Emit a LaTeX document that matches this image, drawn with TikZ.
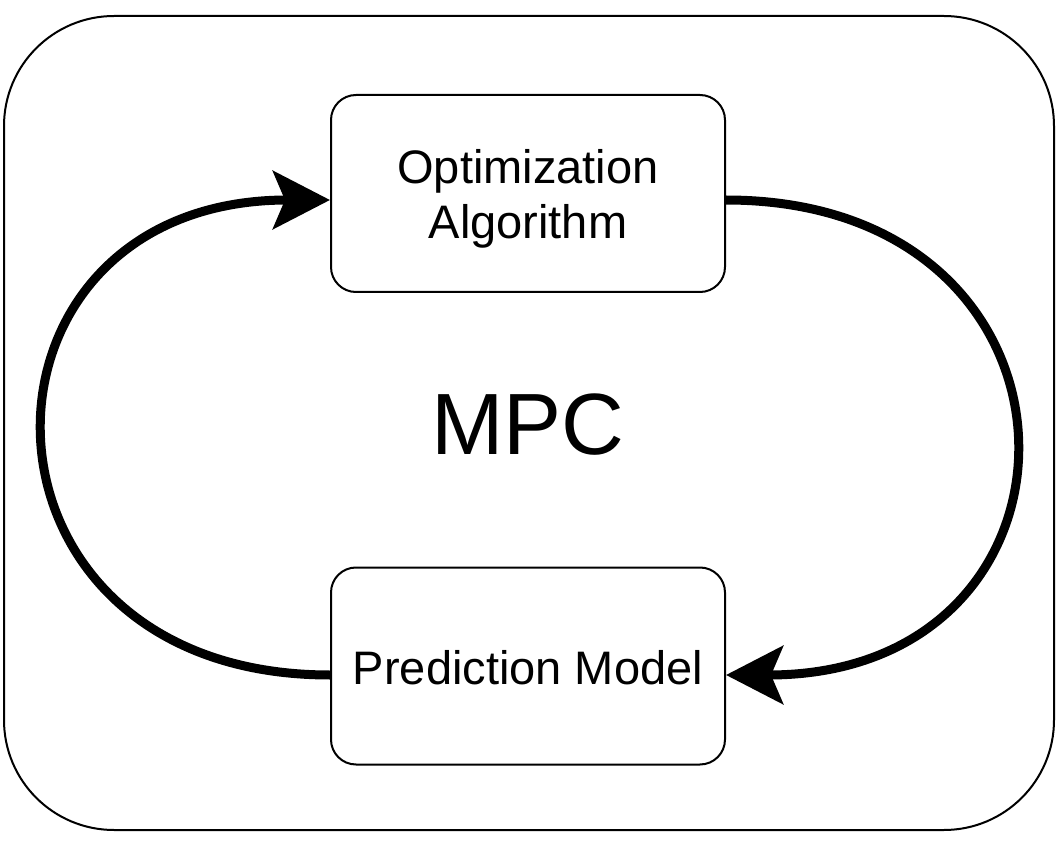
\documentclass[tikz,border=0pt]{standalone}
\usepackage{fontspec}
\setmainfont{Liberation Sans}
\usetikzlibrary{arrows.meta,calc}
\begin{document}
\begin{tikzpicture}[x=1pt,y=-1pt,
  box/.style={draw,line width=2pt,rounded corners=25pt,minimum width=394pt,minimum height=197pt,inner sep=0pt,align=center,font=\fontsize{47pt}{55pt}\selectfont},
  loop/.style={line width=9pt,-{Stealth[length=57pt,width=58pt,inset=12pt]}}]
\useasboundingbox (0,0) rectangle (1061,845);
\node[draw,line width=2pt,rounded corners=110pt,minimum width=1050pt,minimum height=814pt,inner sep=0pt] (frame) at (529,423) {};
\node[box] (opt) at (528,193.5) {\raisebox{0pt}[\dimexpr\height+13pt\relax]{\begin{tabular}{@{}c@{}}Optimization\\Algorithm\end{tabular}}};
\node[box] (pred) at (528,666) {\raisebox{0pt}[\dimexpr\height+4pt\relax]{Prediction Model}};
\node[font=\fontsize{87pt}{100pt}\selectfont] (mpc) at (528,425) {MPC};
\draw[loop] ($(pred.west)+(0,9)$) .. controls (-49,675) and (-49,200) .. ($(opt.west)+(0,6.5)$);
\draw[loop] ($(opt.east)+(0,6.5)$) .. controls (1109,200) and (1109,675) .. ($(pred.east)+(0,9)$);
\end{tikzpicture}
\end{document}
